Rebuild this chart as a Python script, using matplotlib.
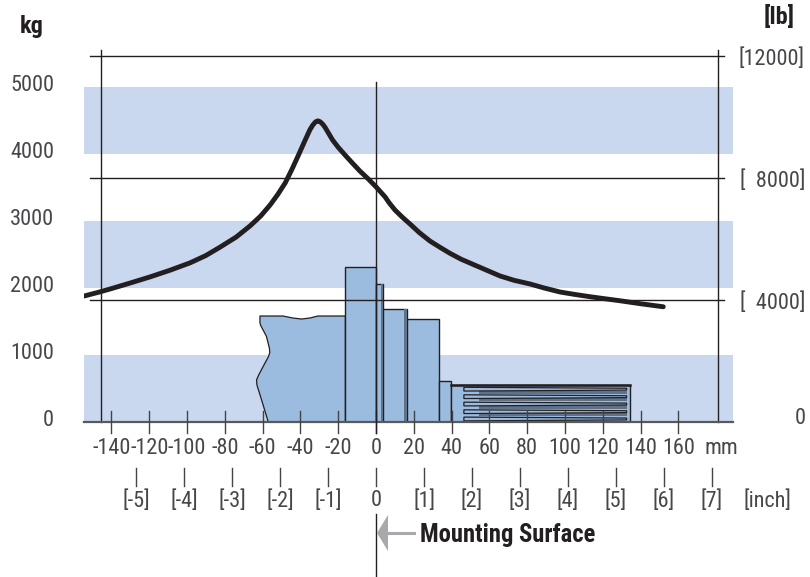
import matplotlib
matplotlib.use("Agg")
import matplotlib.pyplot as plt
from matplotlib.patches import Polygon, Rectangle

plt.rcParams['font.family'] = ['Roboto Condensed', 'DejaVu Sans']

W, H = 810, 577
X0, MM = 376, 1.89
Y0, KG = 422, 0.067

mm_ticks = [-140,-120,-100,-80,-60,-40,-20,0,20,40,60,80,100,120,140,160]
inch_ticks = [-5,-4,-3,-2,-1,0,1,2,3,4,5,6,7]
kg_ticks = [0,1000,2000,3000,4000,5000]
lb_ticks = [4000,8000,12000]
lb_labels = ['[  4000]','[  8000]','[12000]']
band_ranges = [(0,1000),(2000,3000),(4000,5000)]

curve_mm = [-154.5,-147,-140.7,-130,-119.6,-109,-98.4,-90,-82.5,-74,-66.7,-61,-56,-52,-48,-44.5,-41,-38,-35,-33.5,-32,-30.7,-29.5,-28.2,-27,-25,-23,-20,-16.4,-12.5,-8.5,-4,0,2.4,4.8,7,10,14,18,23,28.6,34,39,45,52.4,59,65.6,73,81.5,89,97.4,105,113.2,121,129,140,152]
curve_kg = [1880,1935,1985,2075,2165,2265,2375,2485,2610,2760,2925,3075,3240,3395,3570,3770,3985,4175,4360,4430,4480,4495,4480,4445,4400,4305,4210,4100,3985,3865,3745,3625,3510,3435,3360,3270,3165,3055,2955,2825,2700,2605,2520,2430,2340,2260,2180,2115,2060,2000,1940,1905,1870,1840,1810,1765,1720]

rear_mm = [-57,-60,-63,-63.2,-62,-59.5,-57,-56.2,-56.4,-58,-61,-61.4,-61.4,-49.2,-44,-39.3,-35,-30.7,-16.2,-16.2]
rear_kg = [0,280,552,630,705,840,970,1035,1100,1280,1440,1480,1582,1582,1552,1537,1552,1582,1582,0]
steps_left = [-16.2,0,3.9,16.2,33.3,39.5]
steps_right = [0,3.9,16.2,33.3,39.5,134.4]
steps_top = [2308,2055,1687,1537,612,552]
thread_kg = [490,378,268,154,45]
thread_start, thread_root, thread_end = 46.5,54.7,132.6

BAND='#C9D8EE'; SHAFT='#9BBBDF'; LINE='#231F20'; TXT='#47474A'; SHADE='#5F7288'
NUM = dict(fontsize=16,color=TXT,va='center',fontweight=400)

fig = plt.figure(figsize=(W/100,H/100),dpi=100)
left,right,top,bottom = 84,733,87,Y0
ax = fig.add_axes([left/W,1-bottom/H,(right-left)/W,(bottom-top)/H])
ax.set_xlim((left-X0)/MM,(right-X0)/MM)
ax.set_ylim(0,5000)
ax.patch.set_alpha(0)
for s in ax.spines.values(): s.set_visible(False)
ax.tick_params(left=False,bottom=False,labelleft=False,labelbottom=False)

def px(x): return (x-X0)/MM
def py(y): return (Y0-y)/KG

for lo,hi in band_ranges:
    ax.add_patch(Rectangle((px(left),lo),(right-left)/MM,hi-lo,fc=BAND,ec='none',zorder=1))

# shaft
ax.add_patch(Polygon(list(zip(rear_mm,rear_kg)),closed=False,fc=SHAFT,ec=LINE,lw=0.9,zorder=2))
for l,r,t in zip(steps_left,steps_right,steps_top):
    ax.add_patch(Rectangle((l,0),r-l,t,fc=SHAFT,ec=LINE,lw=1.0,zorder=3))
ax.bar([15.4,3.2],[1687,2055],width=[1.6,1.0],color=SHADE,zorder=3.2)
ax.plot([39.5,134.4],[552,552],color=LINE,lw=1.8,zorder=4)
for i,t in enumerate(thread_kg):
    ax.add_patch(Polygon([(thread_start,t+28),(thread_end,t+14),(thread_end,t-14),(thread_start,t-28)],
                         fc=SHAFT,ec=LINE,lw=0.9,zorder=4))
    if i<len(thread_kg)-1:
        ax.add_patch(Rectangle((thread_root,t-70),thread_end-thread_root,50,fc=SHADE,ec='none',zorder=3.5))

# reference lines
for lb in lb_ticks:
    y = lb*0.0305/KG
    ax.plot([px(90),px(724)],[y,y],color=LINE,lw=1.0,clip_on=False,zorder=5)
for xp,yt in [(101,50),(718,50)]:
    ax.plot([px(xp),px(xp)],[py(yt),0],color=LINE,lw=1.0,clip_on=False,zorder=5)
ax.plot([0,0],[py(82),py(433)],color=LINE,lw=1.0,clip_on=False,zorder=6)
ax.plot([0,0],[py(514),py(577)],color=LINE,lw=1.0,clip_on=False,zorder=6)
ax.plot([px(84),px(733)],[0,0],color='#58595B',lw=1.6,clip_on=False,zorder=5)

ax.plot(curve_mm,curve_kg,color=LINE,lw=3.5,solid_capstyle='round',solid_joinstyle='round',zorder=7)

# ticks and labels
for m in mm_ticks:
    ax.plot([m,m],[py(411),py(433)],color='#444446',lw=1.0,clip_on=False,zorder=5)
    ax.text(m,py(449),str(m),ha='center',clip_on=False,**NUM)
ax.text(px(721),py(449),'mm',ha='center',**NUM)
for i in inch_ticks:
    x=i*25.4
    ax.plot([x,x],[py(468),py(486)],color='#444446',lw=1.0,clip_on=False,zorder=5)
    ax.text(x,py(501),'0' if i==0 else f'[{i}]',ha='center',**NUM)
ax.text(px(767),py(501),'[inch]',ha='center',**NUM)
for k in kg_ticks:
    ax.text(px(54),k+20,str(k),ha='right',**NUM)
for lb,t in zip(lb_ticks,lb_labels):
    ax.text(px(805),lb*0.0305/KG-40,t,ha='right',**NUM)
ax.text(px(806),py(418),'0',ha='right',**NUM)
ax.text(px(32),py(26),'kg',ha='center',va='center',fontsize=17.5,fontweight='bold',color=LINE)
ax.text(px(779),py(17),'[lb]',ha='center',va='center',fontsize=17.5,fontweight='bold',color=LINE)

# arrow
ax.add_patch(Polygon([(px(377),py(533)),(px(388),py(515)),(px(388),py(551))],fc='#A7A9AC',ec='none',clip_on=False,zorder=7))
ax.plot([px(388),px(414)],[py(533),py(533)],color='#A7A9AC',lw=2.2,clip_on=False)
ax.text(px(420),py(535),'Mounting Surface',ha='left',va='center',fontsize=17.7,fontweight='bold',color=LINE)

fig.savefig('out.png',dpi=100)
